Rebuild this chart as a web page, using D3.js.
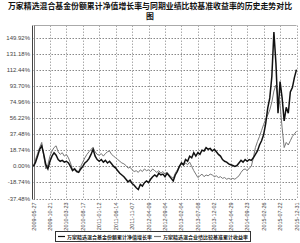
<!DOCTYPE html>
<html><head><meta charset="utf-8">
<script src="https://cdn.jsdelivr.net/npm/d3@7"></script>
<style>
html,body{margin:0;padding:0;background:#fff;}
svg{display:block;}
</style></head>
<body>
<svg id="c" width="300" height="243"></svg>
<script>
const titleLines = ["万家精选混合基金份额累计净值增长率与同期业绩比较基准收益率的历史走势对比", "图"];
const seriesNames = ["万家精选混合基金份额累计净值增长率", "万家精选混合业绩比较基准累计收益率"];
const yTicks = [-37.48, -18.74, 0.00, 18.74, 37.48, 56.22, 74.96, 93.70, 112.44, 131.18, 149.92];
const xTickLabels = ["2009-05-27","2009-10-21","2010-03-23","2010-08-17","2011-01-12","2011-06-14","2011-11-07","2012-04-09","2012-09-04","2013-02-04","2013-07-08","2013-12-02","2014-04-29","2014-09-23","2015-02-26","2015-07-22","2015-12-31"];
const fundValues = [0,5,12,20,24,14,2,-3,6,12,16,13,8,6,7,5,6,4,0,-5,-3,-6,-7,-3,0,4,6,9,14,20,12,8,6,8,5,7,4,6,3,0,-2,-5,-8,-10,-12,-15,-18,-16,-20,-22,-25,-27,-21,-23,-19,-17,-19,-15,-12,-10,-12,-8,-10,-9,-12,-8,-11,-14,-17,-10,-6,0,4,2,8,6,12,10,16,12,16,14,19,18,22,20,21,18,20,17,14,12,8,6,5,3,2,1,0,1,4,7,5,8,6,8,7,10,14,18,25,30,37,50,68,80,105,157,120,62,99,80,53,69,62,87,92,104,113];
const benchValues = [0,8,15,22,28,12,-3,2,12,18,22,24,17,14,16,12,14,10,4,-4,-2,-5,-6,0,5,10,14,17,20,22,17,14,13,15,12,15,17,18,14,12,10,8,6,4,3,1,-2,-1,-4,-6,-5,-7,-4,-6,-3,-5,-4,-6,-3,-5,-7,-5,-8,-6,-9,-7,-10,-12,-14,-8,-4,0,3,1,4,2,5,0,-5,-9,-13,-11,-9,-12,-10,-11,-9,-10,-12,-11,-13,-12,-14,-13,-15,-14,-15,-14,-15,-13,-11,-7,-4,-3,-5,-2,0,10,22,29,35,42,49,55,60,66,75,88,95,80,72,45,22,28,25,30,35,38,41];

const svg = d3.select("#c");
const pLeft = 33.5, pRight = 296.5, pTop = 25.5, pBottom = 198.5;
const n = fundValues.length;
const x = d3.scaleLinear().domain([0, n - 1]).range([pLeft, pRight]);
const y = d3.scaleLinear().domain([-37.48, 164.5]).range([pBottom, pTop]);
const step = (n - 1) / (xTickLabels.length - 1);

// title
svg.selectAll("text.title").data(titleLines).enter().append("text")
  .attr("x", 150).attr("y", (d,i) => 9 + i * 10)
  .attr("text-anchor", "middle")
  .style("font-family", "'Noto Sans CJK SC'")
  .style("font-weight", "bold").style("font-size", "7.9px").style("fill", "#111")
  .text(d => d);

// top border
svg.append("line").attr("x1", pLeft).attr("x2", pRight).attr("y1", pTop).attr("y2", pTop)
  .attr("stroke", "#aaa").attr("stroke-width", 1);

// horizontal grid
svg.selectAll("line.hg").data(yTicks).enter().append("line")
  .attr("x1", pLeft).attr("x2", pRight)
  .attr("y1", d => Math.round(y(d)) + 0.5).attr("y2", d => Math.round(y(d)) + 0.5)
  .attr("stroke", "#888").attr("stroke-dasharray", "1.5,1.5");

// vertical grid
svg.selectAll("line.vg").data(xTickLabels).enter().append("line")
  .attr("x1", (d,i) => Math.round(x(i * step)) + 0.5).attr("x2", (d,i) => Math.round(x(i * step)) + 0.5)
  .attr("y1", pTop).attr("y2", pBottom)
  .attr("stroke", "#aaa").attr("stroke-dasharray", "1.5,1.5");

// left axis (double line)
svg.append("line").attr("x1", pLeft - 1).attr("x2", pLeft - 1).attr("y1", pTop).attr("y2", pBottom + 1)
  .attr("stroke", "#444");
svg.append("line").attr("x1", pLeft + 1).attr("x2", pLeft + 1).attr("y1", pTop).attr("y2", pBottom + 1)
  .attr("stroke", "#777");

// y labels
svg.selectAll("text.yl").data(yTicks).enter().append("text")
  .attr("x", 30).attr("y", d => y(d) + 2)
  .attr("text-anchor", "end")
  .style("font-family", "'Liberation Sans', Arial, sans-serif")
  .style("font-size", "6px").style("fill", "#444")
  .text(d => d.toFixed(2) + "%");

// x labels
svg.selectAll("text.xl").data(xTickLabels).enter().append("text")
  .attr("transform", (d,i) => `translate(${x(i * step) + 2},${pBottom + 4}) rotate(-90)`)
  .attr("text-anchor", "end")
  .style("font-family", "'Liberation Sans', Arial, sans-serif")
  .style("font-size", "5.5px").style("fill", "#444")
  .text(d => d);

// lines
const line = d3.line().x((d,i) => x(i)).y(d => y(d));
svg.append("path").datum(benchValues).attr("d", line)
  .attr("fill", "none").attr("stroke", "#777").attr("stroke-width", 1);
svg.append("path").datum(fundValues).attr("d", line)
  .attr("fill", "none").attr("stroke", "#111").attr("stroke-width", 1.5);

// legend
const lg = svg.append("g");
lg.append("rect").attr("x", 55.5).attr("y", 231.5).attr("width", 195).attr("height", 10)
  .attr("fill", "#fff").attr("stroke", "#333");
const legendColors = ["#111", "#777"];
seriesNames.forEach((name, i) => {
  const lx = 58 + i * 96;
  lg.append("line").attr("x1", lx).attr("x2", lx + 7).attr("y1", 236.5).attr("y2", 236.5)
    .attr("stroke", legendColors[i]).attr("stroke-width", 1.2);
  lg.append("text").attr("x", lx + 9).attr("y", 238.5)
    .style("font-family", "'Noto Sans CJK SC'").style("font-weight", "bold")
    .style("font-size", "5px").style("fill", "#222")
    .text(name);
});
</script>
</body></html>
